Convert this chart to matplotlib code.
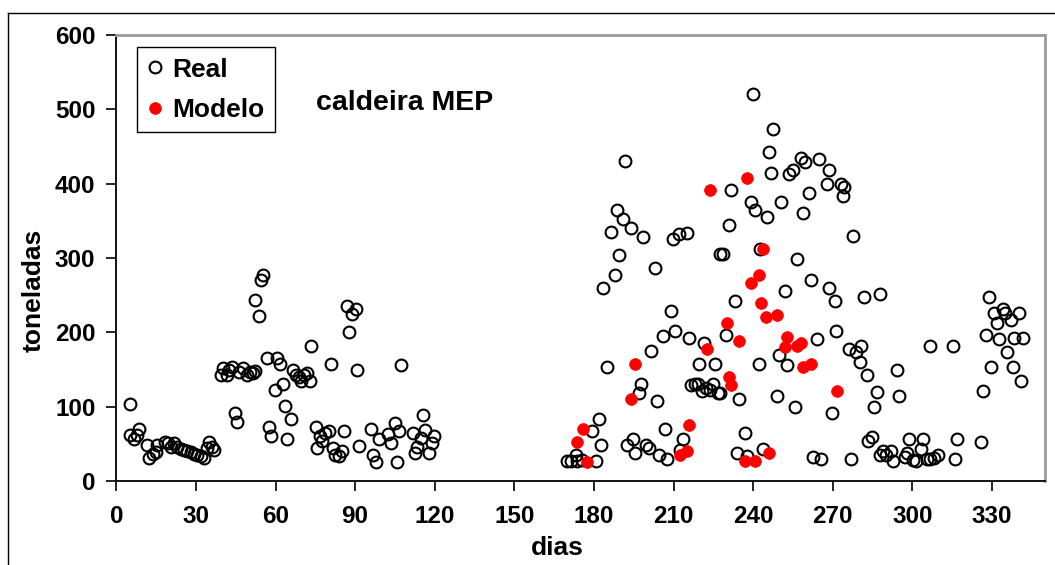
import matplotlib
matplotlib.use("Agg")
import matplotlib.pyplot as plt
from matplotlib.lines import Line2D

plt.rcParams['font.family'] = ['Liberation Sans', 'DejaVu Sans']

# ---- data: Real ----
real_x = [5, 5.2, 6.5, 7.9, 8.7, 11.7, 12.4, 13.7, 15, 15.4, 18.3, 19.6, 20.5, 21.7, 23, 24.3,
          25.5, 26.7, 28, 29.3, 30.3, 31.8, 33, 34, 35, 36, 36.8,
          39.3, 40.3, 41.8, 42.6, 43.6, 46.3, 47.8, 49.1, 50.4, 51.4, 52.4, 44.8, 45.6, 52.4,
          53.9, 54.6, 55.4, 56.9, 57.6, 58.4, 59.9, 60.6, 61.7, 62.9, 63.7, 64.4, 65.9, 66.7,
          67.7, 68.7, 69.7, 70.7, 72, 73, 73.5, 75.2, 75.7, 76.7, 77.7, 78.7, 80, 81, 81.7,
          82.5, 83.8, 85, 85.8, 87, 90.3, 88.7, 87.8,
          90.8, 107.4, 91.5, 96, 96.8, 97.7, 99, 102.4, 103.5, 105.1, 105.8, 106.6, 111.9,
          112.6, 113.4, 115.7, 116.4, 114.9, 117.9, 119, 119.7,
          191.8, 188.7, 191, 194, 186.4, 198.5, 209.8, 212.1, 215.2, 189.4, 188, 183.3, 203,
          209.1, 210.5, 206.1, 216, 221.6, 201.6, 219.6, 225.5, 185, 197.8, 197, 203.6, 216.4,
          218, 219.2, 220.9, 222.4, 224.9, 223.9, 226.8, 182, 179.1, 182.6, 173.2, 169.7, 171.5,
          173.7, 175.4, 180.6, 192.5, 194.9, 195.5, 199.8, 200.6, 204.6, 206.8, 207.6, 213.6,
          212.4, 227.4,
          240, 247.5, 245.9, 258.2, 259.6, 264.8, 268.5, 246.6, 253.4, 255, 267.8, 273.1, 274.1,
          273.9, 231.6, 239.1, 240.7, 250.4, 260.9, 245.1, 258.8, 230.9, 277.5, 228.5, 242.6,
          256.4, 261.8, 268.6, 251.9, 270.7, 281.9, 287.7, 233, 271.4, 263.9, 229.9, 249.6,
          242.1, 252.8, 276, 280.5, 278.9, 280.2, 283.1, 286.5, 227.7, 234.6, 249, 255.8, 269.8,
          285.7, 236.8, 234, 237.7, 243.7, 262.7, 265.6, 276.9, 283.4, 284.9, 287.7,
          294.2, 294.9, 306.8, 315.2, 289, 290.2, 292.1, 292.7, 297.1, 298.7, 298.1, 300.3,
          301.5, 303.1, 304, 305.5, 306.8, 308, 309.8, 316.1, 316.9, 325.8, 326.5, 329, 329.6,
          327.9, 330.9, 334.2, 334.9, 331.8, 332.6, 337.2, 340.2, 335.7, 337.9, 340.9, 338.4,
          341.7]
real_y = [104, 62, 56, 62, 70, 48, 31, 36, 39, 48, 52, 51, 46, 51, 46, 43,
          42, 40, 39, 36, 35, 33, 31, 44, 52, 46, 42,
          142, 152, 142, 150, 154, 147, 152, 142, 146, 145, 148, 91, 80, 243,
          222, 271, 277, 166, 72, 61, 123, 165, 157, 131, 101, 56, 83, 150,
          143, 140, 134, 143, 145, 134, 182, 72, 45, 61, 54, 64, 67, 157, 45,
          35, 34, 41, 67, 236, 231, 225, 201,
          150, 156, 47, 70, 35, 26, 57, 63, 51, 78, 26, 67, 65,
          37, 46, 89, 68, 58, 37, 51, 61,
          430, 365, 352, 341, 335, 328, 325, 332, 333, 304, 277, 260, 287,
          229, 202, 195, 193, 185, 175, 158, 158, 153, 131, 118, 107, 129,
          130, 131, 121, 125, 131, 122, 119, 83, 67, 48, 35, 27, 27,
          27, 28, 27, 48, 56, 37, 48, 45, 35, 70, 29, 56,
          42, 306,
          521, 473, 443, 435, 429, 433, 419, 414, 413, 419, 400, 400, 395,
          384, 392, 376, 365, 376, 387, 355, 360, 344, 330, 306, 312,
          298, 271, 260, 255, 242, 247, 252, 242, 202, 191, 196, 169,
          158, 156, 178, 182, 173, 160, 143, 120, 118, 110, 115, 99, 91,
          100, 65, 37, 33, 43, 32, 29, 29, 54, 59, 35,
          150, 115, 182, 182, 41, 35, 41, 27, 32, 56, 37, 28,
          27, 43, 56, 29, 29, 31, 35, 29, 56, 53, 121, 247, 153,
          196, 226, 231, 226, 212, 191, 217, 226, 174, 153, 134, 193,
          193]

# ---- data: Modelo ----
model_x = [223.9, 222.6, 195.5, 194, 216, 175.9, 173.8, 177.5, 212.6, 214.9, 237.8, 243.7,
           242.1, 239.1, 242.9, 245, 249, 230.1, 234.6, 252.8, 252.1, 256.7, 258.2, 258.8,
           262, 230.9, 231.8, 271.5, 245.9, 236.8, 240.8]
model_y = [392, 177, 158, 110, 75, 70, 53, 26, 35, 40, 408, 312,
           277, 266, 239, 220, 223, 212, 188, 194, 180, 181, 185, 153,
           158, 140, 129, 121, 37, 26.5, 26.5]

x_ticks = list(range(0, 331, 30))
y_ticks = list(range(0, 601, 100))

W, H = 1055, 565
fig = plt.figure(figsize=(W / 100, H / 100), dpi=100)
fig.patch.set_facecolor('white')

# outer chart frame (left and top visible)
fig.add_artist(Line2D([8 / W, 8 / W], [0, 1 - 13 / H], color='black', lw=1.0,
                      transform=fig.transFigure))
fig.add_artist(Line2D([8 / W, 1], [1 - 13 / H, 1 - 13 / H], color='black', lw=1.0,
                      transform=fig.transFigure))

ax_l, ax_r, ax_t, ax_b = 116.3, 1045, 35, 481
ax = fig.add_axes([ax_l / W, 1 - ax_b / H, (ax_r - ax_l) / W, (ax_b - ax_t) / H])

ax.plot(real_x, real_y, linestyle='none', marker='o', markersize=8.5,
        markerfacecolor='none', markeredgecolor='black', markeredgewidth=1.5,
        label='Real', zorder=3)
ax.plot(model_x, model_y, linestyle='none', marker='o', markersize=8.5,
        markerfacecolor='#ff0000', markeredgecolor='#ff0000', markeredgewidth=0.5,
        label='Modelo', zorder=4)

ax.set_xlim(0, 350)
ax.set_ylim(0, 600)
ax.set_xticks(x_ticks)
ax.set_yticks(y_ticks)
ax.tick_params(axis='both', direction='out', length=7, width=1.2, colors='black',
               labelsize=17.5)
ax.tick_params(axis='x', pad=10)
ax.tick_params(axis='y', pad=8)
for lab in ax.get_xticklabels() + ax.get_yticklabels():
    lab.set_fontweight('bold')

for s in ['left', 'bottom']:
    ax.spines[s].set_color('black')
    ax.spines[s].set_linewidth(1.3)
for s in ['top', 'right']:
    ax.spines[s].set_color('#999999')
    ax.spines[s].set_linewidth(2.0)

fig.text(34 / W, 1 - 290 / H, 'toneladas', rotation=90, ha='center', va='center',
         fontsize=19, fontweight='bold')
fig.text(557 / W, 1 - 548 / H, 'dias', ha='center', va='center',
         fontsize=19, fontweight='bold')
fig.text(405 / W, 1 - 103 / H, 'caldeira MEP', ha='center', va='center',
         fontsize=20.5, fontweight='bold')

leg = ax.legend(loc='upper left', bbox_to_anchor=(137 / W, 1 - 47 / H),
                bbox_transform=fig.transFigure, frameon=True, fancybox=False,
                edgecolor='black', framealpha=1, prop={'weight': 'bold', 'size': 19},
                borderpad=0.4, labelspacing=0.62, handlelength=0.6, handletextpad=0.33,
                borderaxespad=0)
leg.get_frame().set_linewidth(1.0)

fig.savefig('out.png', dpi=100, facecolor='white')
